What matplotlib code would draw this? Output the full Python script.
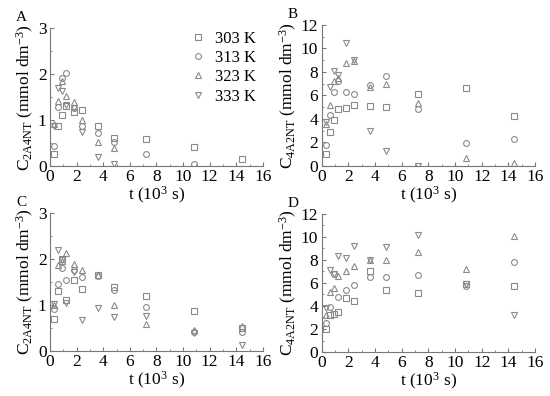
import numpy as np
import matplotlib
matplotlib.use("Agg")
import matplotlib.pyplot as plt
from matplotlib.ticker import MultipleLocator

nan = np.nan

# sampling times (10^3 s)
t = [0.3, 0.6, 0.9, 1.2, 1.8, 2.4, 3.6, 4.8, 7.2, 10.8, 14.4]
temps = ["303 K", "313 K", "323 K", "333 K"]

# panel A: C2A4NT
a_303 = [0.25, 0.88, 1.10, 1.30, 1.17, 1.21, 0.86, 0.60, 0.58, 0.41, 0.16]
a_313 = [0.43, 1.28, 1.92, 2.03, 1.27, 0.86, 0.71, 0.53, 0.25, 0.05, nan]
a_323 = [0.92, 1.41, 1.84, 1.52, 1.39, 1.01, 0.51, 0.39, nan, nan, nan]
a_333 = [0.87, 1.69, 1.63, 1.32, 1.26, 0.74, 0.20, 0.05, nan, nan, nan]

# panel B: C4A2NT
b_303 = [1.05, 2.90, 3.90, 4.85, 4.95, 5.20, 5.10, 5.05, 6.12, 6.60, 4.22]
b_313 = [1.75, 4.30, 6.30, 7.25, 6.25, 6.10, 6.90, 7.65, 4.82, 1.98, 2.32]
b_323 = [3.60, 5.22, 7.25, 7.45, 8.75, 8.95, 6.70, 6.97, 5.38, 0.70, 0.22]
b_333 = [3.70, 6.75, 8.05, 7.70, 10.45, 9.00, 3.00, 1.30, 0.02, nan, nan]

# panel C: C2A4NT
c_303 = [0.70, 1.30, 2.00, 1.10, 1.55, 1.34, 1.66, 1.38, 1.19, 0.87, 0.50]
c_313 = [0.92, 1.45, 1.81, 1.54, 1.75, 1.61, 1.63, 1.33, 0.95, 0.41, 0.40]
c_323 = [1.00, 1.86, 1.95, 2.14, 1.90, 1.76, 1.65, 1.00, 0.59, 0.46, 0.54]
c_333 = [1.03, 2.19, 1.98, 1.05, 1.72, 0.67, 0.94, 0.74, 0.75, 0.38, 0.13]

# panel D: C4A2NT
d_303 = [2.00, 3.25, 3.30, 3.45, 4.70, 4.45, 7.00, 5.35, 5.15, 5.95, 5.70]
d_313 = [2.50, 3.95, 6.75, 4.80, 5.40, 5.85, 6.55, 6.55, 6.65, 5.70, 7.80]
d_323 = [3.20, 5.20, 5.60, 6.60, 7.00, 7.45, 7.95, 8.00, 8.70, 7.25, 10.10]
d_333 = [3.80, 7.10, 6.80, 8.35, 8.20, 9.20, 7.97, 9.15, 10.20, 5.90, 3.20]

markers = ["s", "o", "^", "v"]
grey = "#8a8a8a"

plt.rcParams["font.family"] = ["Liberation Serif", "DejaVu Serif"]
plt.rcParams["mathtext.fontset"] = "custom"
plt.rcParams["mathtext.rm"] = "Liberation Serif"
plt.rcParams["mathtext.it"] = "Liberation Serif"

fig = plt.figure(figsize=(5.5, 3.96), dpi=100)

# [left, bottom, width, height] in figure fractions
boxes = {
    "A": [0.091, 0.581, 0.387, 0.348],
    "B": [0.585, 0.581, 0.388, 0.356],
    "C": [0.091, 0.114, 0.387, 0.348],
    "D": [0.585, 0.111, 0.388, 0.349],
}
panels = {
    "A": ([a_303, a_313, a_323, a_333], 3, 1, "2A4NT"),
    "B": ([b_303, b_313, b_323, b_333], 12, 2, "4A2NT"),
    "C": ([c_303, c_313, c_323, c_333], 3, 1, "2A4NT"),
    "D": ([d_303, d_313, d_323, d_333], 12, 2, "4A2NT"),
}

for name, (series, ymax, ystep, sub) in panels.items():
    ax = fig.add_axes(boxes[name])
    for vals, m, lab in zip(series, markers, temps):
        ax.plot(t, vals, linestyle="none", marker=m, ms=4.2, mfc="none",
                mec=grey, mew=0.8, label=lab)
    ax.set_xlim(0, 16)
    ax.set_ylim(0, ymax)
    ax.xaxis.set_major_locator(MultipleLocator(2))
    ax.xaxis.set_minor_locator(MultipleLocator(1))
    ax.yaxis.set_major_locator(MultipleLocator(ystep))
    ax.yaxis.set_minor_locator(MultipleLocator(ystep / 2))
    for s in ["top", "right"]:
        ax.spines[s].set_visible(False)
    for s in ["left", "bottom"]:
        ax.spines[s].set_color("#777777")
        ax.spines[s].set_linewidth(0.8)
    ax.tick_params(which="both", direction="in", color="#777777",
                   labelsize=12.5)
    ax.tick_params(axis="x", pad=2)
    ax.tick_params(axis="y", pad=2.5)
    ax.tick_params(which="major", length=3)
    ax.tick_params(which="minor", length=1.5)
    ax.set_xlabel("t (10$^3$ s)", fontsize=12.5, labelpad=0)
    ax.set_ylabel("C$_{\\mathrm{%s}}$ (mmol dm$^{-3}$)" % sub, fontsize=12.5,
                  labelpad=1)
    ax.text(-0.16, 1.03, name, transform=ax.transAxes, fontsize=11,
            ha="left", va="bottom")
    if name == "A":
        ax.legend(loc="upper right", frameon=False, fontsize=12,
                  handletextpad=0.5, labelspacing=0.2, borderaxespad=0.0,
                  handlelength=1.0, bbox_to_anchor=(1.0, 1.03))

fig.savefig("out.png", dpi=100)
